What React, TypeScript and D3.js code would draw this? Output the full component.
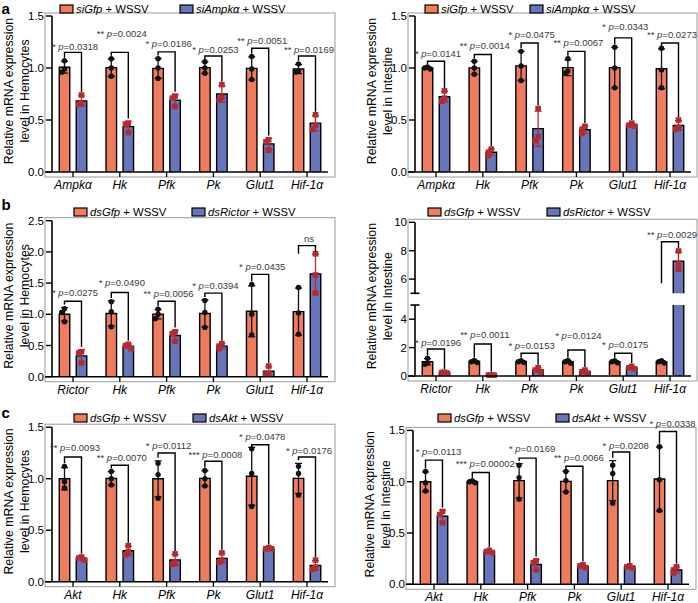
import React from 'react';
import * as d3 from 'd3';

const FONT = '"Liberation Sans", Arial, Helvetica, sans-serif';
const ORANGE = '#f07c5e';
const BLUE = '#6775bb';
const RED = '#b32b30';

// panel a: siAmpkα
const genesA = ['Ampkα', 'Hk', 'Pfk', 'Pk', 'Glut1', 'Hif-1α'];
const aHemoCtrl = [[1.07, 0.99, 0.96], [1.09, 1.0, 0.92], [1.09, 1.0, 0.9], [1.06, 1.0, 0.95], [1.11, 0.99, 0.89], [1.04, 0.97, 0.96]];
const aHemoKd = [[0.74, 0.66, 0.65], [0.47, 0.46, 0.38], [0.73, 0.71, 0.63], [0.84, 0.72, 0.69], [0.31, 0.29, 0.21], [0.55, 0.45, 0.41]];
const aHemoStars = ['*', '**', '*', '*', '**', '**'];
const aHemoP = ['0.0318', '0.0024', '0.0186', '0.0253', '0.0051', '0.0169'];
const aHemoBracket = [1.15, 1.15, 1.155, 1.115, 1.19, 1.115];
const aHemoText = [1.17, 1.295, 1.2, 1.147, 1.235, 1.147];

const aIntCtrl = [[1.01, 1.0, 0.99], [1.065, 1.0, 0.94], [1.16, 1.02, 0.88], [1.09, 0.97, 0.95], [1.2, 1.0, 0.81], [1.19, 0.98, 0.81]];
const aIntKd = [[0.78, 0.71, 0.68], [0.22, 0.19, 0.16], [0.61, 0.34, 0.3], [0.44, 0.41, 0.37], [0.47, 0.45, 0.44], [0.5, 0.43, 0.41]];
const aIntStars = ['*', '**', '*', '**', '*', '**'];
const aIntP = ['0.0141', '0.0014', '0.0475', '0.0067', '0.0343', '0.0273'];
const aIntBracket = [1.065, 1.13, 1.24, 1.16, 1.29, 1.24];
const aIntText = [1.11, 1.18, 1.29, 1.21, 1.37, 1.29];

// panel b: dsRictor
const genesB = ['Rictor', 'Hk', 'Pfk', 'Pk', 'Glut1', 'Hif-1α'];
const bHemoCtrl = [[1.09, 1.03, 0.88], [1.2, 1.04, 0.8], [1.08, 1.0, 0.93], [1.22, 1.03, 0.79], [1.48, 1.0, 0.67], [1.43, 1.02, 0.68]];
const bHemoKd = [[0.4, 0.38, 0.22], [0.52, 0.5, 0.45], [0.72, 0.69, 0.57], [0.53, 0.49, 0.45], [0.17, 0.05, 0.04], [1.97, 1.63, 1.34]];
const bHemoStars = ['*', '*', '**', '*', '*', ''];
const bHemoP = ['0.0275', '0.0490', '0.0056', '0.0394', '0.0435', 'ns'];
const bHemoBracket = [1.21, 1.35, 1.21, 1.34, 1.64, 2.1];
const bHemoText = [1.29, 1.45, 1.27, 1.4, 1.71, 2.16];

const bIntCtrl = [[1.25, 0.92, 0.83], [1.1, 1.0, 0.95], [1.08, 1.0, 0.95], [1.1, 1.0, 0.9], [1.08, 1.0, 0.93], [1.08, 1.0, 0.92]];
const bIntKd = [[0.27, 0.25, 0.2], [0.08, 0.07, 0.06], [0.58, 0.42, 0.28], [0.42, 0.3, 0.2], [0.68, 0.58, 0.5], [7.98, 7.1, 6.7]];
const bIntStars = ['*', '**', '*', '*', '*', '**'];
const bIntP = ['0.0196', '0.0011', '0.0153', '0.0124', '0.0175', '0.0029'];
const bIntBracket = [1.9, 2.25, 1.6, 1.83, 1.6, 8.63];
const bIntText = [2.13, 2.7, 1.9, 2.64, 1.94, 8.9];

// panel c: dsAkt
const genesC = ['Akt', 'Hk', 'Pfk', 'Pk', 'Glut1', 'Hif-1α'];
const cHemoCtrl = [[1.12, 0.97, 0.91], [1.07, 1.0, 0.94], [1.15, 1.04, 0.81], [1.08, 1.0, 0.93], [1.29, 1.05, 0.73], [1.12, 1.05, 0.84]];
const cHemoKd = [[0.24, 0.23, 0.21], [0.35, 0.29, 0.26], [0.27, 0.19, 0.17], [0.28, 0.21, 0.19], [0.33, 0.32, 0.32], [0.21, 0.14, 0.12]];
const cHemoStars = ['**', '**', '*', '***', '*', '*'];
const cHemoP = ['0.0093', '0.0070', '0.0112', '0.0008', '0.0478', '0.0176'];
const cHemoBracket = [1.21, 1.13, 1.25, 1.17, 1.33, 1.21];
const cHemoText = [1.27, 1.17, 1.29, 1.2, 1.38, 1.24];

const cIntCtrl = [[1.1, 0.99, 0.91], [1.01, 1.0, 0.99], [1.16, 1.04, 0.83], [1.1, 1.01, 0.9], [1.16, 1.08, 0.79], [1.34, 1.02, 0.72]];
const cIntKd = [[0.71, 0.68, 0.6], [0.33, 0.32, 0.31], [0.23, 0.21, 0.14], [0.19, 0.18, 0.16], [0.18, 0.17, 0.16], [0.17, 0.14, 0.11]];
const cIntStars = ['*', '***', '*', '**', '*', '*'];
const cIntP = ['0.0113', '0.00002', '0.0169', '0.0066', '0.0208', '0.0338'];
const cIntBracket = [1.21, 1.09, 1.23, 1.15, 1.29, 1.49];
const cIntText = [1.26, 1.14, 1.29, 1.2, 1.32, 1.53];

const ticks15 = [0, 0.5, 1.0, 1.5];
const ticks25 = [0, 0.5, 1.0, 1.5, 2.0, 2.5];

type Seg = { domain: [number, number]; range: [number, number]; ticks: number[] };
type Cfg = {
  letter?: string; letterY?: number;
  axisX: number; segs: Seg[]; fmt: (v: number) => string;
  legendY: number; legendX: [number, number];
  ctrlLabel: string; kdLabel: string; tissue: string;
  textDx?: number;
};

function topOf(pts: number[]) {
  const m = d3.mean(pts) ?? 0;
  const sd = d3.deviation(pts) ?? 0;
  return Math.max(m + sd, d3.max(pts) ?? 0);
}

function Panel({ cfg, genes, ctrl, kd, stars, pvals, bracket, textAt }: {
  cfg: Cfg; genes: string[]; ctrl: number[][]; kd: number[][];
  stars: string[]; pvals: string[]; bracket: number[]; textAt: number[];
}) {
  const scales = cfg.segs.map(s => d3.scaleLinear().domain(s.domain).range(s.range));
  const segOf = (v: number) => {
    let k = 0;
    cfg.segs.forEach((s, i) => { if (i > 0 && v > s.domain[0]) k = i; });
    return k;
  };
  const yPx = (v: number) => scales[segOf(v)](v);
  const y0 = scales[0](0);
  const last = cfg.segs[cfg.segs.length - 1];
  const yTop = scales[scales.length - 1](last.domain[1]);
  const ax = cfg.axisX;
  const x = d3.scalePoint<string>().domain(genes).range([ax + 21, ax + 21 + 46.8 * 5]);
  const groups = [
    { key: 'ctrl', data: ctrl, fill: ORANGE, mark: '#111', dx: -8.5 },
    { key: 'kd', data: kd, fill: BLUE, mark: RED, dx: 8.5 },
  ];
  const bw = 10.5;
  const frameL = ax - 7;
  const frameR = Math.min(ax + 283, 697);
  const mid = (yTop + y0) / 2 - 3;
  const tdx = cfg.textDx ?? 2;

  return (
    <g fontFamily={FONT}>
      {cfg.letter && (
        <text x={1.5} y={cfg.letterY} fontSize={15} fontWeight="bold" fill="#000">{cfg.letter}</text>
      )}
      <rect x={frameL} y={yTop - 3} width={frameR - frameL} height={y0 + 5 - (yTop - 3)} fill="none" stroke="#9a9a9a" strokeWidth={1} />

      {/* legend */}
      {groups.map((g, gi) => (
        <g key={g.key}>
          <rect x={cfg.legendX[gi]} y={cfg.legendY - 4} width={13} height={8} fill={g.fill} stroke="#000" strokeWidth={1.2} />
          <text x={cfg.legendX[gi] + 16} y={cfg.legendY + 4} fontSize={11.3} fill="#000">
            <tspan fontStyle="italic">{gi === 0 ? cfg.ctrlLabel : cfg.kdLabel}</tspan>{' + WSSV'}
          </text>
        </g>
      ))}

      {/* y title */}
      <text transform={`translate(${ax - 39.5},${mid}) rotate(-90)`} textAnchor="middle" fontSize={12.3} fill="#000">Relative mRNA expression</text>
      <text transform={`translate(${ax - 23.5},${mid}) rotate(-90)`} textAnchor="middle" fontSize={12.3} fill="#000">{`level in ${cfg.tissue}`}</text>

      {/* bars */}
      {genes.map((gene, i) => groups.map(g => {
        const pts = g.data[i];
        const m = d3.mean(pts) ?? 0;
        const cx = (x(gene) ?? 0) + g.dx;
        return cfg.segs.map((s, k) => {
          if (m <= s.domain[0] && k > 0) return null;
          const realTop = m <= s.domain[1];
          const top = scales[k](Math.min(m, s.domain[1]));
          const bot = scales[k](s.domain[0]);
          const l = cx - bw / 2, r = cx + bw / 2;
          return (
            <g key={`${gene}-${g.key}-${k}`}>
              <rect x={l} y={top} width={bw} height={bot - top} fill={g.fill} />
              <path d={`M${l},${bot}V${top}${realTop ? `H${r}` : `M${r},${top}`}V${bot}`} fill="none" stroke="#000" strokeWidth={1.4} />
            </g>
          );
        });
      }))}

      {/* error bars and points */}
      {genes.map((gene, i) => groups.map(g => {
        const pts = g.data[i];
        const m = d3.mean(pts) ?? 0;
        const sd = d3.deviation(pts) ?? 0;
        const cx = (x(gene) ?? 0) + g.dx;
        const yHi = yPx(m + sd), yLo = yPx(Math.max(0, m - sd));
        const placed: number[] = [];
        const offs = [0, -2.8, 2.8];
        return (
          <g key={`e-${gene}-${g.key}`}>
            <path d={`M${cx},${yLo}V${yHi}M${cx - 3.5},${yHi}H${cx + 3.5}M${cx - 3.5},${yLo}H${cx + 3.5}`} stroke={g.mark} strokeWidth={1.3} fill="none" />
            {pts.map((v, j) => {
              const py = yPx(v);
              const near = placed.filter(q => Math.abs(q - py) < 4.5).length;
              placed.push(py);
              const px = cx + offs[Math.min(near, 2)];
              return g.key === 'ctrl'
                ? <circle key={j} cx={px} cy={py} r={2.7} fill={g.mark} />
                : <rect key={j} x={px - 2.8} y={py - 2.8} width={5.6} height={5.6} fill={g.mark} />;
            })}
          </g>
        );
      }))}

      {/* y axis */}
      {cfg.segs.map((s, k) => (
        <g key={`ax-${k}`}>
          <line x1={ax} x2={ax} y1={scales[k](s.domain[0])} y2={scales[k](s.domain[1])} stroke="#000" strokeWidth={1.6} />
          {cfg.segs.length > 1 && k > 0 && (
            <line x1={ax - 4.5} x2={ax + 4.5} y1={scales[k](s.domain[0])} y2={scales[k](s.domain[0])} stroke="#000" strokeWidth={1.6} />
          )}
          {cfg.segs.length > 1 && k < cfg.segs.length - 1 && (
            <line x1={ax - 4.5} x2={ax + 4.5} y1={scales[k](s.domain[1])} y2={scales[k](s.domain[1])} stroke="#000" strokeWidth={1.6} />
          )}
          {s.ticks.map(t => (
            <g key={t}>
              <line x1={ax - 6} x2={ax} y1={scales[k](t)} y2={scales[k](t)} stroke="#000" strokeWidth={1.4} />
              <text x={ax - 8} y={scales[k](t) + 4} textAnchor="end" fontSize={11.5} fill="#000">{cfg.fmt(t)}</text>
            </g>
          ))}
        </g>
      ))}

      {/* x axis */}
      <line x1={frameL} x2={ax + 276} y1={y0} y2={y0} stroke="#000" strokeWidth={1.6} />
      {genes.map(gene => (
        <g key={`xt-${gene}`}>
          <line x1={x(gene)} x2={x(gene)} y1={y0} y2={y0 + 5} stroke="#000" strokeWidth={1.3} />
          <text x={x(gene)} y={y0 + 17} textAnchor="middle" fontSize={12} fontStyle="italic" fill="#000">{gene}</text>
        </g>
      ))}

      {/* significance brackets */}
      {genes.map((gene, i) => {
        const cx = x(gene) ?? 0;
        const xl = cx - 8.5, xr = cx + 8.5;
        const yb = yPx(bracket[i]);
        const kb = segOf(bracket[i]);
        const legEnd = (pts: number[]) => {
          const tv = topOf(pts);
          if (pvals[i] === 'ns') return yb + 8;
          if (segOf(tv) < kb) return scales[kb].range()[0] - 10;
          return Math.max(yb + 3, yPx(tv) - 3);
        };
        const el = legEnd(ctrl[i]);
        const er = pvals[i] === 'ns' ? yb + 6 : legEnd(kd[i]);
        return (
          <g key={`br-${gene}`}>
            <path d={`M${xl},${el}V${yb}H${xr}V${er}`} fill="none" stroke="#000" strokeWidth={1.4} />
            <text x={cx + tdx} y={yPx(textAt[i])} textAnchor="middle" fontSize={9.5} fill="#3a3a3a">
              {pvals[i] === 'ns' ? 'ns' : (
                <>
                  {stars[i] + ' '}
                  <tspan fontStyle="italic">p</tspan>
                  {'=' + pvals[i]}
                </>
              )}
            </text>
          </g>
        );
      })}
    </g>
  );
}

const f1 = (v: number) => v.toFixed(1);
const f0 = (v: number) => String(v);

export default function App() {
  const cfgs: Record<string, Cfg> = {
    aL: { letter: 'a', letterY: 13.5, axisX: 52, segs: [{ domain: [0, 1.5], range: [172, 16], ticks: ticks15 }], fmt: f1, legendY: 9, legendX: [60, 180], ctrlLabel: 'siGfp', kdLabel: 'siAmpkα', tissue: 'Hemocytes' },
    aR: { axisX: 415, segs: [{ domain: [0, 1.5], range: [172, 16], ticks: ticks15 }], fmt: f1, legendY: 9, legendX: [425, 530], ctrlLabel: 'siGfp', kdLabel: 'siAmpkα', tissue: 'Intestine' },
    bL: { letter: 'b', letterY: 210, axisX: 52, segs: [{ domain: [0, 2.5], range: [376.7, 220.7], ticks: ticks25 }], fmt: f1, legendY: 212, legendX: [74, 192], ctrlLabel: 'dsGfp', kdLabel: 'dsRictor', tissue: 'Hemocytes' },
    bR: {
      axisX: 415,
      segs: [
        { domain: [0, 5], range: [376, 305], ticks: [0, 2, 4] },
        { domain: [5, 10], range: [293.3, 222.3], ticks: [6, 8, 10] },
      ],
      fmt: f0, legendY: 212, legendX: [428, 547], ctrlLabel: 'dsGfp', kdLabel: 'dsRictor', tissue: 'Intestine',
    },
    cL: { letter: 'c', letterY: 418, axisX: 52, segs: [{ domain: [0, 1.5], range: [581.7, 427.2], ticks: ticks15 }], fmt: f1, legendY: 418, legendX: [74, 193], ctrlLabel: 'dsGfp', kdLabel: 'dsAkt', tissue: 'Hemocytes' },
    cR: { axisX: 413, segs: [{ domain: [0, 1.5], range: [584.3, 430.4], ticks: ticks15 }], fmt: f1, legendY: 418, legendX: [438, 556], ctrlLabel: 'dsGfp', kdLabel: 'dsAkt', tissue: 'Intestine', textDx: 4.5 },
  };

  return (
    <svg width={698} height={603} viewBox="0 0 698 603" style={{ position: 'absolute', left: 0, top: 0, background: '#fff' }}>
      <rect width={698} height={603} fill="#fff" />
      <Panel cfg={cfgs.aL} genes={genesA} ctrl={aHemoCtrl} kd={aHemoKd} stars={aHemoStars} pvals={aHemoP} bracket={aHemoBracket} textAt={aHemoText} />
      <Panel cfg={cfgs.aR} genes={genesA} ctrl={aIntCtrl} kd={aIntKd} stars={aIntStars} pvals={aIntP} bracket={aIntBracket} textAt={aIntText} />
      <Panel cfg={cfgs.bL} genes={genesB} ctrl={bHemoCtrl} kd={bHemoKd} stars={bHemoStars} pvals={bHemoP} bracket={bHemoBracket} textAt={bHemoText} />
      <Panel cfg={cfgs.bR} genes={genesB} ctrl={bIntCtrl} kd={bIntKd} stars={bIntStars} pvals={bIntP} bracket={bIntBracket} textAt={bIntText} />
      <Panel cfg={cfgs.cL} genes={genesC} ctrl={cHemoCtrl} kd={cHemoKd} stars={cHemoStars} pvals={cHemoP} bracket={cHemoBracket} textAt={cHemoText} />
      <Panel cfg={cfgs.cR} genes={genesC} ctrl={cIntCtrl} kd={cIntKd} stars={cIntStars} pvals={cIntP} bracket={cIntBracket} textAt={cIntText} />
    </svg>
  );
}
